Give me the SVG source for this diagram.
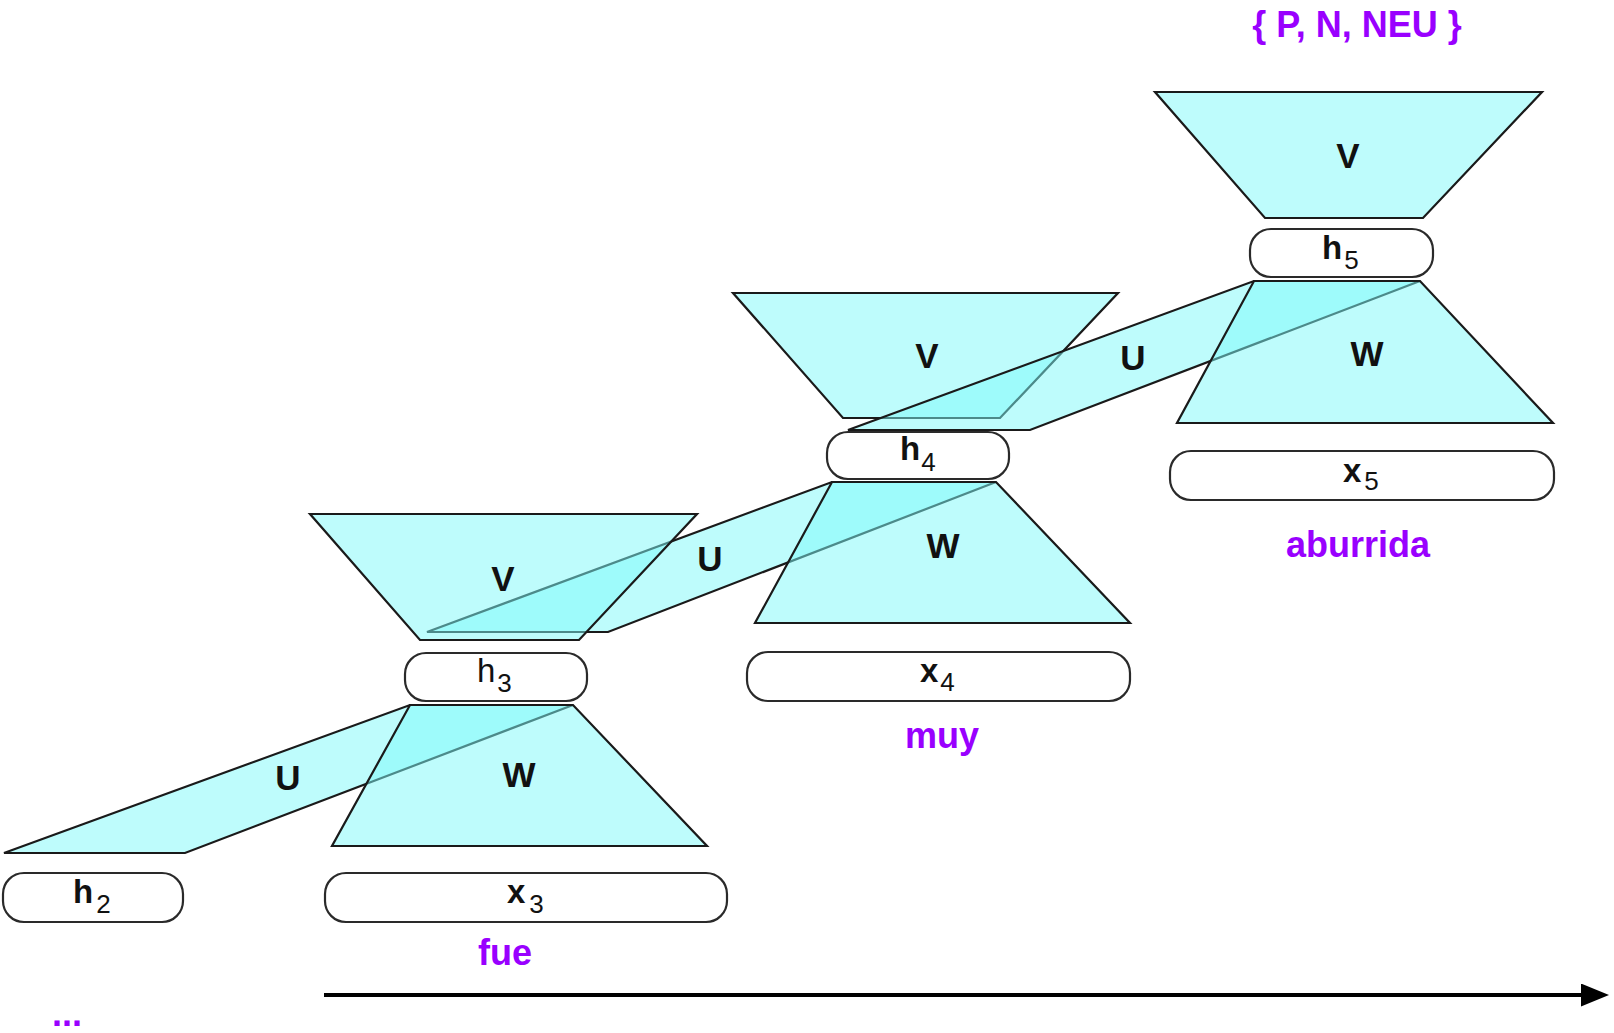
<svg xmlns="http://www.w3.org/2000/svg" width="1614" height="1033" viewBox="0 0 1614 1033">
  <defs>
    <style>
      .trap { fill: #7df9f9; fill-opacity: 0.5; stroke: #1a1a1a; stroke-width: 2.2; stroke-linejoin: miter; }
      .box { fill: #ffffff; stroke: #2a2a2a; stroke-width: 2.2; }
      .lbl { font-family: "Liberation Sans", Arial, sans-serif; font-weight: bold; font-size: 35px; fill: #111; text-anchor: middle; }
      .var { font-family: "Liberation Sans", Arial, sans-serif; font-weight: bold; font-size: 33px; fill: #111; }
      .var.reg { font-weight: normal; }
      .sub { font-weight: normal; font-size: 26px; }
      .word { font-family: "Liberation Sans", Arial, sans-serif; font-weight: bold; font-size: 36px; fill: #9900ff; text-anchor: middle; }
    </style>
    <marker id="arrowhead" markerUnits="userSpaceOnUse" markerWidth="30" markerHeight="24" refX="2" refY="11.5" orient="auto">
      <path d="M0,0 L28,11.5 L0,23 Z" fill="#000"/>
    </marker>
  </defs>

  <g id="V5"><polygon class="trap" points="1155,92 1542,92 1423,218 1265,218"/><text class="lbl" x="1348" y="168">V</text></g>
  <g id="V4"><polygon class="trap" points="733,293 1118,293 1000,418 843,418"/><text class="lbl" x="927" y="368">V</text></g>
  <g id="U45"><polygon class="trap" points="848,430 1030,430 1420,281 1254,281"/><text class="lbl" x="1133" y="370">U</text></g>
  <g id="W5"><polygon class="trap" points="1254,281 1420,281 1553,423 1177,423"/><text class="lbl" x="1367" y="366">W</text></g>
  <g id="U34"><polygon class="trap" points="427,632 608,632 996,482 832,482"/><text class="lbl" x="710" y="571">U</text></g>
  <g id="V3"><polygon class="trap" points="310,514 697,514 579,640 420,640"/><text class="lbl" x="503" y="591">V</text></g>
  <g id="W4"><polygon class="trap" points="832,482 996,482 1130,623 755,623"/><text class="lbl" x="943" y="558">W</text></g>
  <g id="U23"><polygon class="trap" points="4,853 185,853 573,705 410,705"/><text class="lbl" x="288" y="790">U</text></g>
  <g id="W3"><polygon class="trap" points="410,705 573,705 707,846 332,846"/><text class="lbl" x="519" y="787">W</text></g>

  <g id="h5"><rect class="box" x="1250" y="229" width="183" height="48" rx="21"/><text class="var" x="1322" y="259">h<tspan class="sub" dx="2" dy="10">5</tspan></text></g>
  <g id="x5"><rect class="box" x="1170" y="451" width="384" height="49" rx="21"/><text class="var" x="1343" y="482">x<tspan class="sub" dx="3" dy="8">5</tspan></text></g>
  <g id="h4"><rect class="box" x="827" y="432" width="182" height="47" rx="21"/><text class="var" x="900" y="460">h<tspan class="sub" dx="1" dy="11">4</tspan></text></g>
  <g id="x4"><rect class="box" x="747" y="652" width="383" height="49" rx="21"/><text class="var" x="920" y="682">x<tspan class="sub" dx="2" dy="9">4</tspan></text></g>
  <g id="h3"><rect class="box" x="405" y="653" width="182" height="48" rx="21"/><text class="var reg" x="477" y="682">h<tspan class="sub" dx="2" dy="10">3</tspan></text></g>
  <g id="x3"><rect class="box" x="325" y="873" width="402" height="49" rx="21"/><text class="var" x="507" y="903">x<tspan class="sub" dx="4" dy="10">3</tspan></text></g>
  <g id="h2"><rect class="box" x="3" y="873" width="180" height="49" rx="21"/><text class="var" x="73" y="903">h<tspan class="sub" dx="3" dy="10">2</tspan></text></g>

  <g id="words">
    <text class="word" x="1357" y="37">{ P, N, NEU }</text>
    <text class="word" x="1358" y="557">aburrida</text>
    <text class="word" x="942" y="748">muy</text>
    <text class="word" x="505" y="965">fue</text>
    <text class="word" x="52" y="1026" style="text-anchor:start">...</text>
  </g>

  <g id="connectors">
    <line x1="324" y1="995" x2="1583" y2="995" stroke="#000" stroke-width="4" marker-end="url(#arrowhead)"/>
  </g>
</svg>
